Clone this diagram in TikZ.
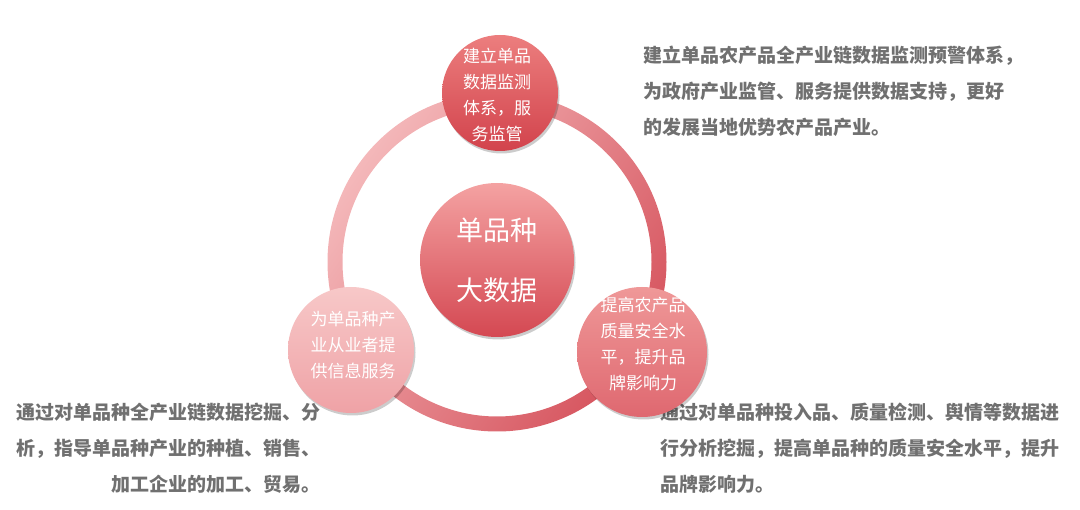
\documentclass[tikz,border=0pt]{standalone}
\usepackage{fontspec}
\newfontfamily\cjk{Noto Sans CJK SC}
\usetikzlibrary{shadows}
\definecolor{ringlight}{HTML}{F4B8BA}
\definecolor{ringdark}{HTML}{D6545E}
\definecolor{toptop}{HTML}{EC7E7E}
\definecolor{topbot}{HTML}{D2434C}
\definecolor{midtop}{HTML}{F4A2A2}
\definecolor{midbot}{HTML}{D44852}
\definecolor{lefttop}{HTML}{F7C8C8}
\definecolor{leftbot}{HTML}{EFA2A6}
\definecolor{righttop}{HTML}{EF9898}
\definecolor{rightbot}{HTML}{DF6870}
\definecolor{textgray}{HTML}{707070}
\begin{document}
\begin{tikzpicture}[x=1pt,y=-1pt,
  ball/.style={circle, inner sep=0pt, draw=none,
    drop shadow={shadow xshift=1.5pt, shadow yshift=-2.5pt, opacity=0.2, fill=black}},
  balltext/.style={text=white, align=center, inner sep=0pt,
    font=\cjk\fontsize{17}{26}\selectfont},
  bigtext/.style={text=white, align=center, inner sep=0pt,
    font=\cjk\fontsize{27}{60}\selectfont},
  blocktext/.style={text=textgray, inner sep=0pt,
    font=\cjk\bfseries\fontsize{19}{36}\selectfont}]
\useasboundingbox (0,0) rectangle (1080,510);
% ring
\shade[even odd rule, top color=ringlight, bottom color=ringdark, shading angle=55]
  (497,262) circle (169.5pt) (497,262) circle (154.5pt);
% text blocks
\node[blocktext, anchor=north west, align=left] (tr) at (643,46)
  {建立单品农产品全产业链数据监测预警体系，\\为政府产业监管、服务提供数据支持，更好\\的发展当地优势农产品产业。};
\node[blocktext, anchor=north east, align=right] (bl) at (321,403)
  {通过对单品种全产业链数据挖掘、分\\析，指导单品种产业的种植、销售、\\加工企业的加工、贸易。};
\node[blocktext, anchor=north west, align=left] (br) at (660,403)
  {通过对单品种投入品、质量检测、舆情等数据进\\行分析挖掘，提高单品种的质量安全水平，提升\\品牌影响力。};
% circles
\node[ball, minimum size=116pt, top color=toptop, bottom color=topbot] (topc) at (500,93) {};
\node[ball, minimum size=154pt, top color=midtop, bottom color=midbot] (midc) at (497,260) {};
\node[ball, minimum size=126pt, top color=lefttop, bottom color=leftbot] (leftc) at (351,350) {};
\node[ball, minimum size=130pt, top color=righttop, bottom color=rightbot] (rightc) at (642,352) {};
% circle texts
\node[balltext] (topt) at (497,95) {建立单品\\数据监测\\体系，服\\务监管};
\node[bigtext] (midt) at (497,260) {单品种\\大数据};
\node[balltext] (leftt) at (353,345) {为单品种产\\业从业者提\\供信息服务};
\node[balltext] (rightt) at (643,344) {提高农产品\\质量安全水\\平，提升品\\牌影响力};
\end{tikzpicture}
\end{document}
